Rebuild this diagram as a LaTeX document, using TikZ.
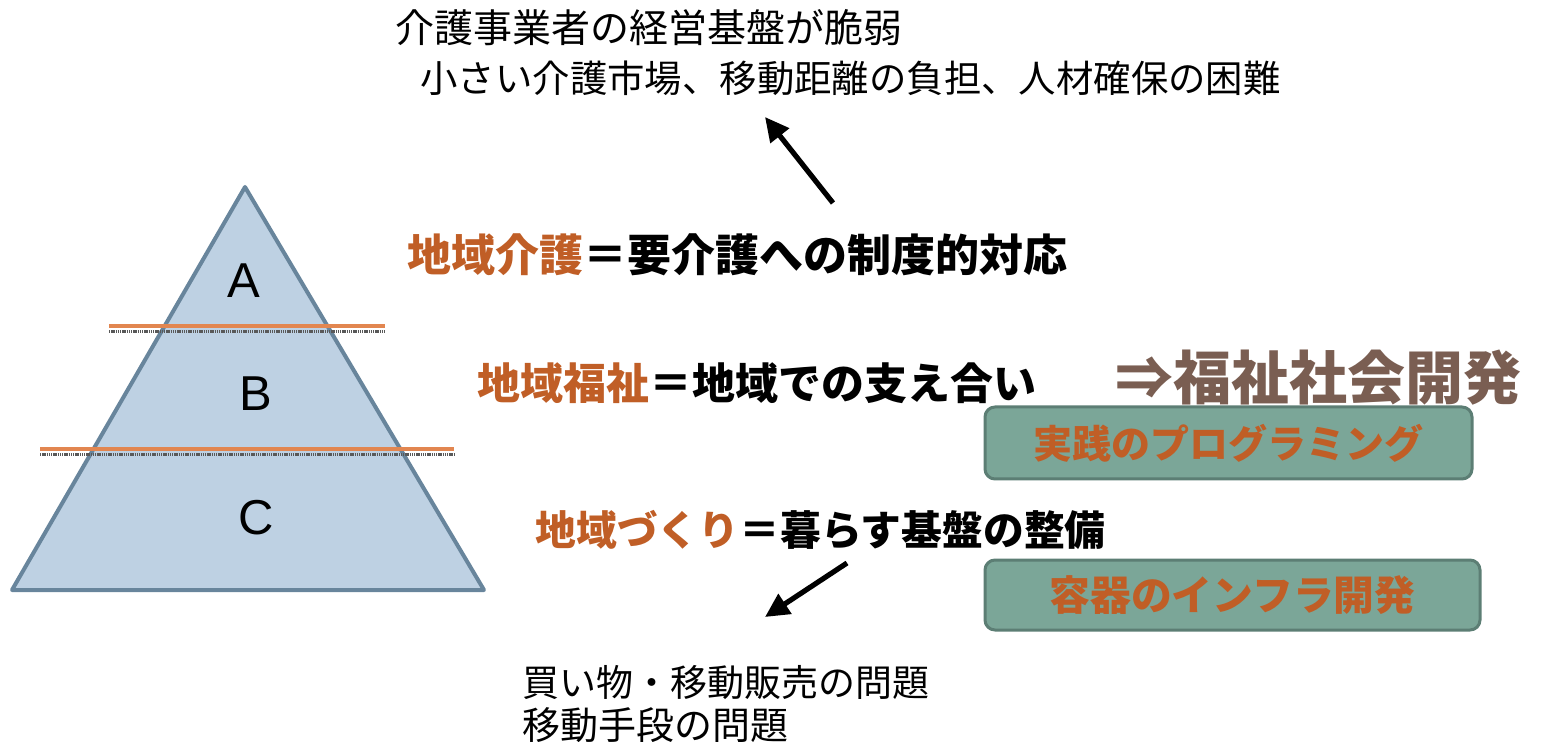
\documentclass[tikz,border=0pt]{standalone}
\usepackage{fontspec}
\setmainfont{Liberation Sans}
\newfontfamily\jp{Noto Sans CJK JP}
\usetikzlibrary{arrows.meta}
\definecolor{orangetxt}{RGB}{192,94,38}
\definecolor{orangeline}{RGB}{226,134,80}
\definecolor{pyrfill}{RGB}{190,209,227}
\definecolor{pyredge}{RGB}{104,133,156}
\definecolor{boxfill}{RGB}{123,166,152}
\definecolor{boxedge}{RGB}{92,126,116}
\definecolor{browntxt}{RGB}{122,94,82}
\tikzset{
  jtext/.style={inner sep=0pt, anchor=west, font=\jp},
  boxnode/.style={draw=boxedge, fill=boxfill, line width=1.5pt, rounded corners=5pt, inner sep=0pt, text=orangetxt},
  bigarrow/.style={line width=2.6pt, -{Triangle[length=12pt,width=11.5pt]}},
  layerlbl/.style={inner sep=0pt, font=\fontsize{24.5}{24.5}\selectfont},
  sepline/.style={orangeline, line width=2pt},
  shadeline/.style={black!65, line width=1.5pt, dash pattern=on 0.7pt off 0.4pt}
}
\begin{document}
\begin{tikzpicture}[x=0.5pt,y=-0.5pt]
\useasboundingbox (0,0) rectangle (1541,742);
% pyramid
\coordinate (apex) at (245,187);
\coordinate (bl) at (12,590);
\coordinate (br) at (484,590);
\fill[pyrfill] (apex) -- (br) -- (bl) -- cycle;
\draw[pyredge, line width=2pt, line join=round] (apex) -- (br) -- (bl) -- cycle;
% separator lines
\coordinate (s1l) at (109,326); \coordinate (s1r) at (385,326);
\coordinate (g1l) at (109,332); \coordinate (g1r) at (385,332);
\coordinate (s2l) at (40,449); \coordinate (s2r) at (454,449);
\coordinate (g2l) at (40,455); \coordinate (g2r) at (454,455);
\draw[shadeline] (g1l) -- (g1r);
\draw[sepline] (s1l) -- (s1r);
\draw[shadeline] (g2l) -- (g2r);
\draw[sepline] (s2l) -- (s2r);
\node[layerlbl] (la) at (244,281) {A};
\node[layerlbl] (lb) at (256,394) {B};
\node[layerlbl] (lc) at (256,518) {C};
% top texts
\node[jtext, font=\jp\fontsize{19.5}{19.5}\selectfont] (t1) at (395,28) {介護事業者の経営基盤が脆弱};
\node[jtext, font=\jp\fontsize{18.7}{18.7}\selectfont] (t2) at (420,78) {小さい介護市場、移動距離の負担、人材確保の困難};
% middle texts
\node[jtext, font=\jp\bfseries\fontsize{22}{22}\selectfont] (m1) at (407,255) {\textcolor{orangetxt}{地域介護}＝要介護への制度的対応};
\node[jtext, font=\jp\bfseries\fontsize{21.5}{21.5}\selectfont] (m2) at (477,383) {\textcolor{orangetxt}{地域福祉}＝地域での支え合い};
\node[jtext, font=\jp\bfseries\fontsize{20.4}{20.4}\selectfont] (m3) at (535,530) {\textcolor{orangetxt}{地域づくり}＝暮らす基盤の整備};
\node[jtext, font=\jp\bfseries\fontsize{29}{29}\selectfont, text=browntxt] (fs) at (1115,378) {⇒福祉社会開発};
% boxes
\node[boxnode, minimum width=243.5pt, minimum height=36pt, font=\jp\bfseries\fontsize{19.5}{19.5}\selectfont] (b1) at (1228.5,443) {実践のプログラミング};
\node[boxnode, minimum width=247.5pt, minimum height=35pt, font=\jp\bfseries\fontsize{20.4}{20.4}\selectfont] (b2) at (1232.5,595) {容器のインフラ開発};
% bottom texts
\node[jtext, font=\jp\fontsize{18.5}{18.5}\selectfont] (u1) at (522,683) {買い物・移動販売の問題};
\node[jtext, font=\jp\fontsize{19}{19}\selectfont] (u2) at (522,725) {移動手段の問題};
% arrows
\coordinate (a1s) at (833,203); \coordinate (a1e) at (765,117);
\coordinate (a2s) at (847,563); \coordinate (a2e) at (765,617);
\draw[bigarrow] (a1s) -- (a1e);
\draw[bigarrow] (a2s) -- (a2e);
\end{tikzpicture}
\end{document}
